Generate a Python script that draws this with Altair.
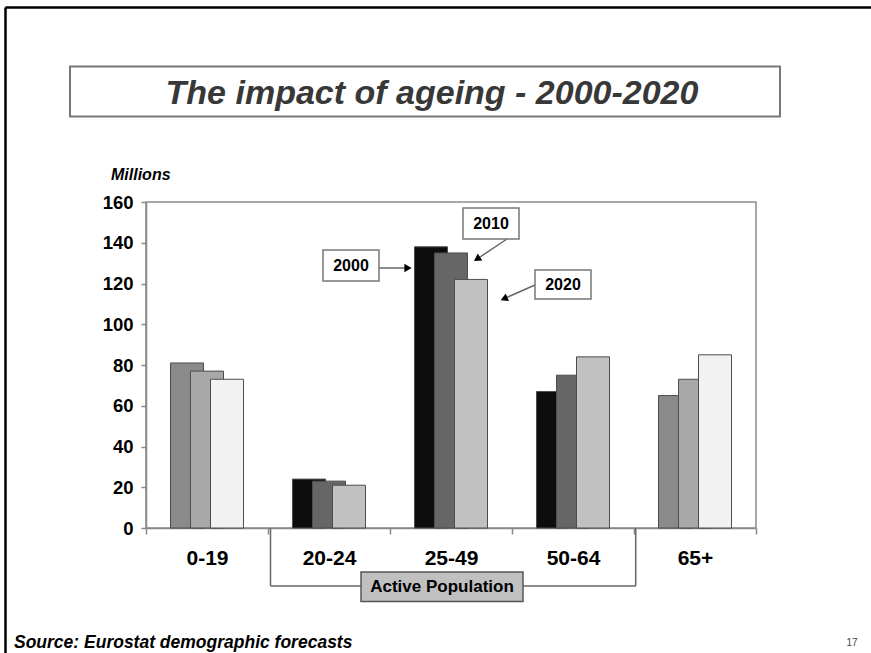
import altair as alt
import pandas as pd

# Population by age group (millions), Eurostat demographic forecasts
groups = ["0-19", "20-24", "25-49", "50-64", "65+"]
active_groups = ["20-24", "25-49", "50-64"]
years = ["2000", "2010", "2020"]
pop_2000 = [81, 24, 138, 67, 65]
pop_2010 = [77, 23, 135, 75, 73]
pop_2020 = [73, 21, 122, 84, 85]

FONT = "Liberation Sans"
W, H = 610, 326          # plot area
LEFT, TOP = 146, 202     # plot origin on the canvas

rows = []
for year, vals in zip(years, [pop_2000, pop_2010, pop_2020]):
    for g, v in zip(groups, vals):
        rows.append({"group": g, "year": year, "millions": v,
                     "active": g in active_groups})
df = pd.DataFrame(rows)

shade_domain = ["o2000", "o2010", "o2020", "a2000", "a2010", "a2020"]
shade_range = ["#8a8a8a", "#a8a8a8", "#f2f2f2", "#0d0d0d", "#666666", "#c1c1c1"]

x_enc = alt.X(
    "group:N", sort=groups,
    scale=alt.Scale(domain=groups, paddingInner=0, paddingOuter=0),
    axis=alt.Axis(title=None, labelAngle=0, tickBand="extent", tickSize=6,
                  tickColor="#888888", tickWidth=1.5, domainColor="#888888",
                  domainWidth=1.5, labelFont=FONT, labelFontSize=21,
                  labelFontWeight="bold", labelColor="black",
                  labelBaseline="middle", labelPadding=24),
)
y_enc = alt.Y(
    "millions:Q", scale=alt.Scale(domain=[0, 160], nice=False),
    axis=alt.Axis(title=None, values=list(range(0, 161, 20)), grid=False,
                  tickSize=5, tickColor="#888888", tickWidth=1.5,
                  domainColor="#888888", domainWidth=1.5, labelFont=FONT,
                  labelFontSize=18.5, labelFontWeight="bold", labelColor="black",
                  labelPadding=8),
)
color_enc = alt.Color("shade:N", legend=None,
                      scale=alt.Scale(domain=shade_domain, range=shade_range))

# Overlapping clustered bars: each year is its own layer, later years on top
bar_offsets = {"2000": -20, "2010": 0, "2020": 20}
bars = [
    alt.Chart(df)
    .transform_filter(alt.datum.year == yr)
    .transform_calculate(shade="(datum.active ? 'a' : 'o') + datum.year")
    .mark_bar(width=33, xOffset=off, stroke="#4d4d4d", strokeWidth=1)
    .encode(x=x_enc, y=y_enc, color=color_enc)
    for yr, off in bar_offsets.items()
]

one = alt.Data(values=[{"k": 0}])


def px(x):
    return alt.value(x - LEFT)


def py(y):
    return alt.value(y - TOP)


def box(x0, x1, y0, y1, fill="white", stroke="#777777", sw=1.5):
    return alt.Chart(one).mark_rect(fill=fill, stroke=stroke, strokeWidth=sw).encode(
        x=px(x0), x2=px(x1), y=py(y0), y2=py(y1))


def line(x0, y0, x1, y1, color="#666666", sw=1.5):
    return alt.Chart(one).mark_rule(color=color, strokeWidth=sw).encode(
        x=px(x0), x2=px(x1), y=py(y0), y2=py(y1))


def label(txt, x, y, size, weight="bold", style="normal", align="center",
          color="black"):
    return alt.Chart(one).mark_text(
        text=txt, font=FONT, fontSize=size, fontWeight=weight, fontStyle=style,
        align=align, baseline="middle", color=color).encode(x=px(x), y=py(y))


def head(x, y, angle):
    return alt.Chart(one).mark_point(
        shape="triangle-right", filled=True, color="black", opacity=1,
        size=70, angle=angle).encode(x=px(x), y=py(y))


decor = [
    # slide frame
    line(5.5, 7.5, 871, 7.5, color="black", sw=2.5),
    line(5.5, 7.5, 5.5, 653, color="black", sw=2.5),
    # title
    box(70, 780, 66.5, 116.5, stroke="#777777", sw=2),
    label("The impact of ageing - 2000-2020", 432, 94, 34, style="italic",
          color="#383838"),
    label("Millions", 111, 175, 16, style="italic", align="left"),
    # year call-outs
    line(379, 268, 408, 268),
    head(408, 268, 0),
    box(323, 379, 250, 281),
    label("2000", 351, 266, 16),
    line(507, 239, 477, 259),
    head(477, 259, 146.7),
    box(463, 519, 208, 239),
    label("2010", 491, 224, 16),
    line(535, 285, 504, 298.7),
    head(504, 298.7, 156.3),
    box(535, 591, 270, 299),
    label("2020", 563, 285, 16),
    # active population bracket
    line(270.5, 528, 270.5, 586),
    line(270.5, 586, 635.7, 586),
    line(635.7, 528, 635.7, 586),
    box(361, 523, 572, 601.5, fill="#c0c0c0", stroke="#555555", sw=1.5),
    label("Active Population", 442, 587, 17),
    # footer
    label("Source: Eurostat demographic forecasts", 14, 643, 17.5,
          style="italic", align="left"),
    label("17", 852, 643, 10, weight="normal", color="#444444"),
]

chart = (
    alt.layer(*bars, *decor)
    .properties(width=W, height=H, autosize="none", background="white",
                padding={"left": LEFT, "top": TOP,
                         "right": 871 - LEFT - W, "bottom": 653 - TOP - H})
    .configure_view(stroke="#8c8c8c", strokeWidth=1.5)
)

chart.save("out.html", embed_options={"renderer": "svg", "actions": False})
